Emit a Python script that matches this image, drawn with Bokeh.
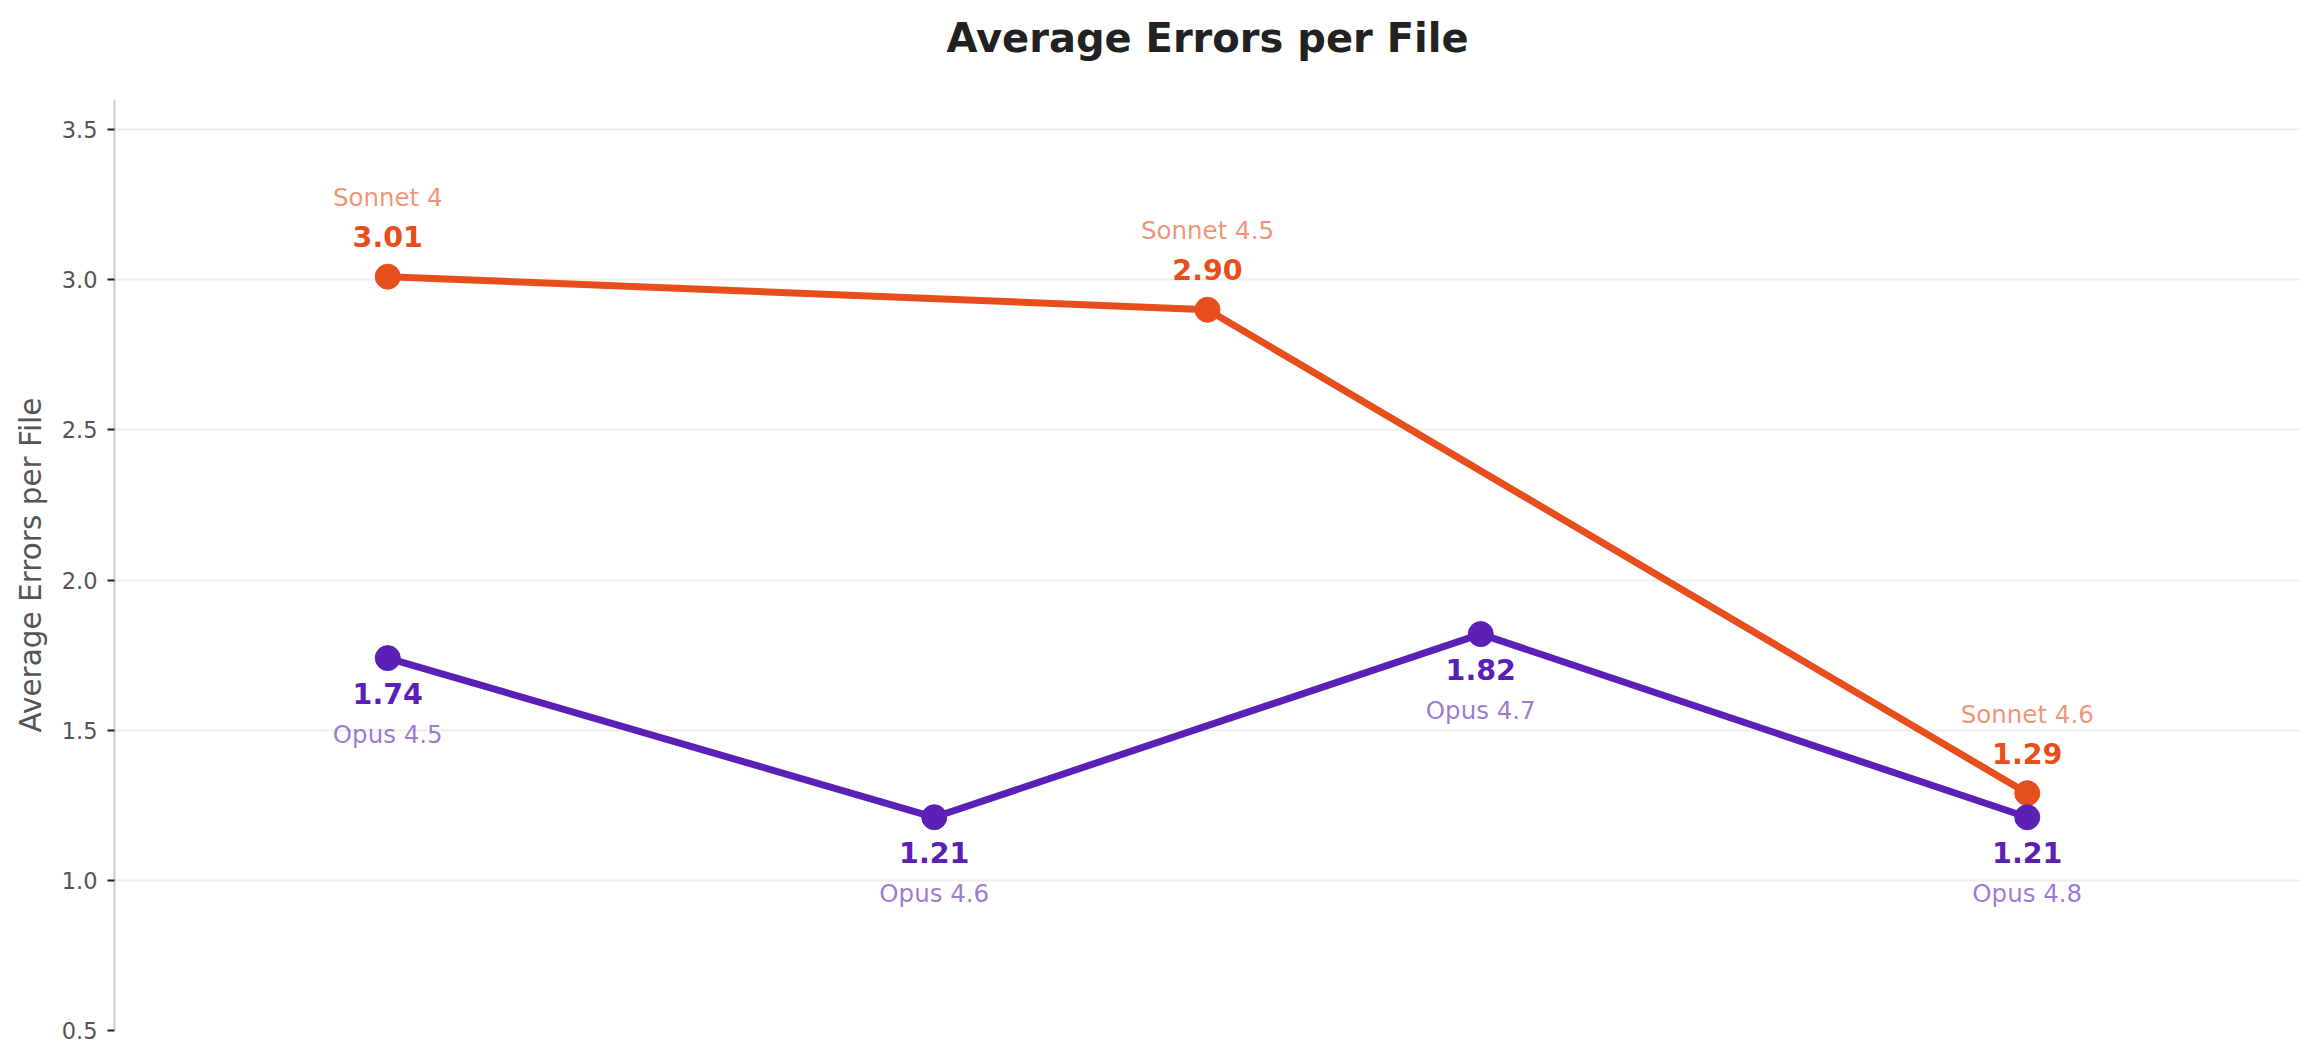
from bokeh.plotting import figure
from bokeh.models import ColumnDataSource, LabelSet, Range1d, FixedTicker, PrintfTickFormatter, Title
from bokeh.core.properties import value
from bokeh.embed import file_html
from bokeh.resources import INLINE

# Data
sonnet_names = ["Sonnet 4", "Sonnet 4.5", "Sonnet 4.6"]
sonnet_errors = [3.01, 2.90, 1.29]
sonnet_slot = [0, 3, 6]

opus_names = ["Opus 4.5", "Opus 4.6", "Opus 4.7", "Opus 4.8"]
opus_errors = [1.74, 1.21, 1.82, 1.21]
opus_slot = [0, 2, 4, 6]

y_ticks = [0.5, 1.0, 1.5, 2.0, 2.5, 3.0, 3.5]

ORANGE = "#E84E1B"
PURPLE = "#5B21B6"
FONT = "DejaVu Sans"

p = figure(frame_width=2186, frame_height=931,
           x_range=Range1d(-1, 7), y_range=Range1d(0.5, 3.6),
           output_backend="svg", toolbar_location=None,
           min_border_left=114, min_border_right=16,
           min_border_top=99, min_border_bottom=31)
p.outline_line_color = None
p.background_fill_color = "white"
p.border_fill_color = "white"

# Title, with an empty spacer panel between it and the frame
p.title.text = "Average Errors per File"
p.title.align = "center"
p.title.text_font = FONT
p.title.text_font_size = "40px"
p.title.text_font_style = "bold"
p.title.text_color = "#222222"
p.title.standoff = 10
p.add_layout(Title(text=" ", text_font_size="1px", standoff=31), "above")

# Axes
p.xaxis.visible = False
p.xgrid.visible = False
p.ygrid.grid_line_color = "#EEEEEE"
p.ygrid.grid_line_width = 2

yax = p.yaxis[0]
yax.ticker = FixedTicker(ticks=y_ticks)
yax.formatter = PrintfTickFormatter(format="%.1f")
yax.axis_line_color = "#CCCCCC"
yax.axis_line_width = 2
yax.major_tick_in = 0
yax.major_tick_out = 7
yax.major_tick_line_color = "#222222"
yax.major_tick_line_width = 2
yax.minor_tick_line_color = None
yax.major_label_text_font = FONT
yax.major_label_text_font_size = "22.5px"
yax.major_label_text_color = "#555555"
yax.major_label_standoff = 10
yax.axis_label = "Average Errors per File"
yax.axis_label_text_font = FONT
yax.axis_label_text_font_size = "29.5px"
yax.axis_label_text_font_style = "normal"
yax.axis_label_text_color = "#555555"
yax.axis_label_standoff = 11

sonnet = ColumnDataSource(data=dict(
    x=sonnet_slot, y=sonnet_errors, name=sonnet_names,
    val=["%.2f" % v for v in sonnet_errors]))
opus = ColumnDataSource(data=dict(
    x=opus_slot, y=opus_errors, name=opus_names,
    val=["%.2f" % v for v in opus_errors]))

for src, color in ((sonnet, ORANGE), (opus, PURPLE)):
    p.line(x="x", y="y", source=src, line_color=color, line_width=7)
    p.scatter(x="x", y="y", source=src, size=25, fill_color=color, line_color=color)

# Value and model labels: Sonnet above the points, Opus below
label_specs = [
    (sonnet, "val", ORANGE, 40, "28.5px", "bold", 1.0),
    (sonnet, "name", ORANGE, 79, "24.5px", "normal", 0.62),
    (opus, "val", PURPLE, -35, "28.5px", "bold", 1.0),
    (opus, "name", PURPLE, -76, "24.5px", "normal", 0.6),
]
for src, col, color, off, fsize, fstyle, alpha in label_specs:
    p.add_layout(LabelSet(x="x", y="y", text=col, source=src,
                          y_offset=off, text_align="center", text_baseline="middle",
                          text_font=value(FONT), text_font_size=value(fsize),
                          text_font_style=value(fstyle),
                          text_color=color, text_alpha=alpha))

open("out.html", "w").write(file_html(p, INLINE))
